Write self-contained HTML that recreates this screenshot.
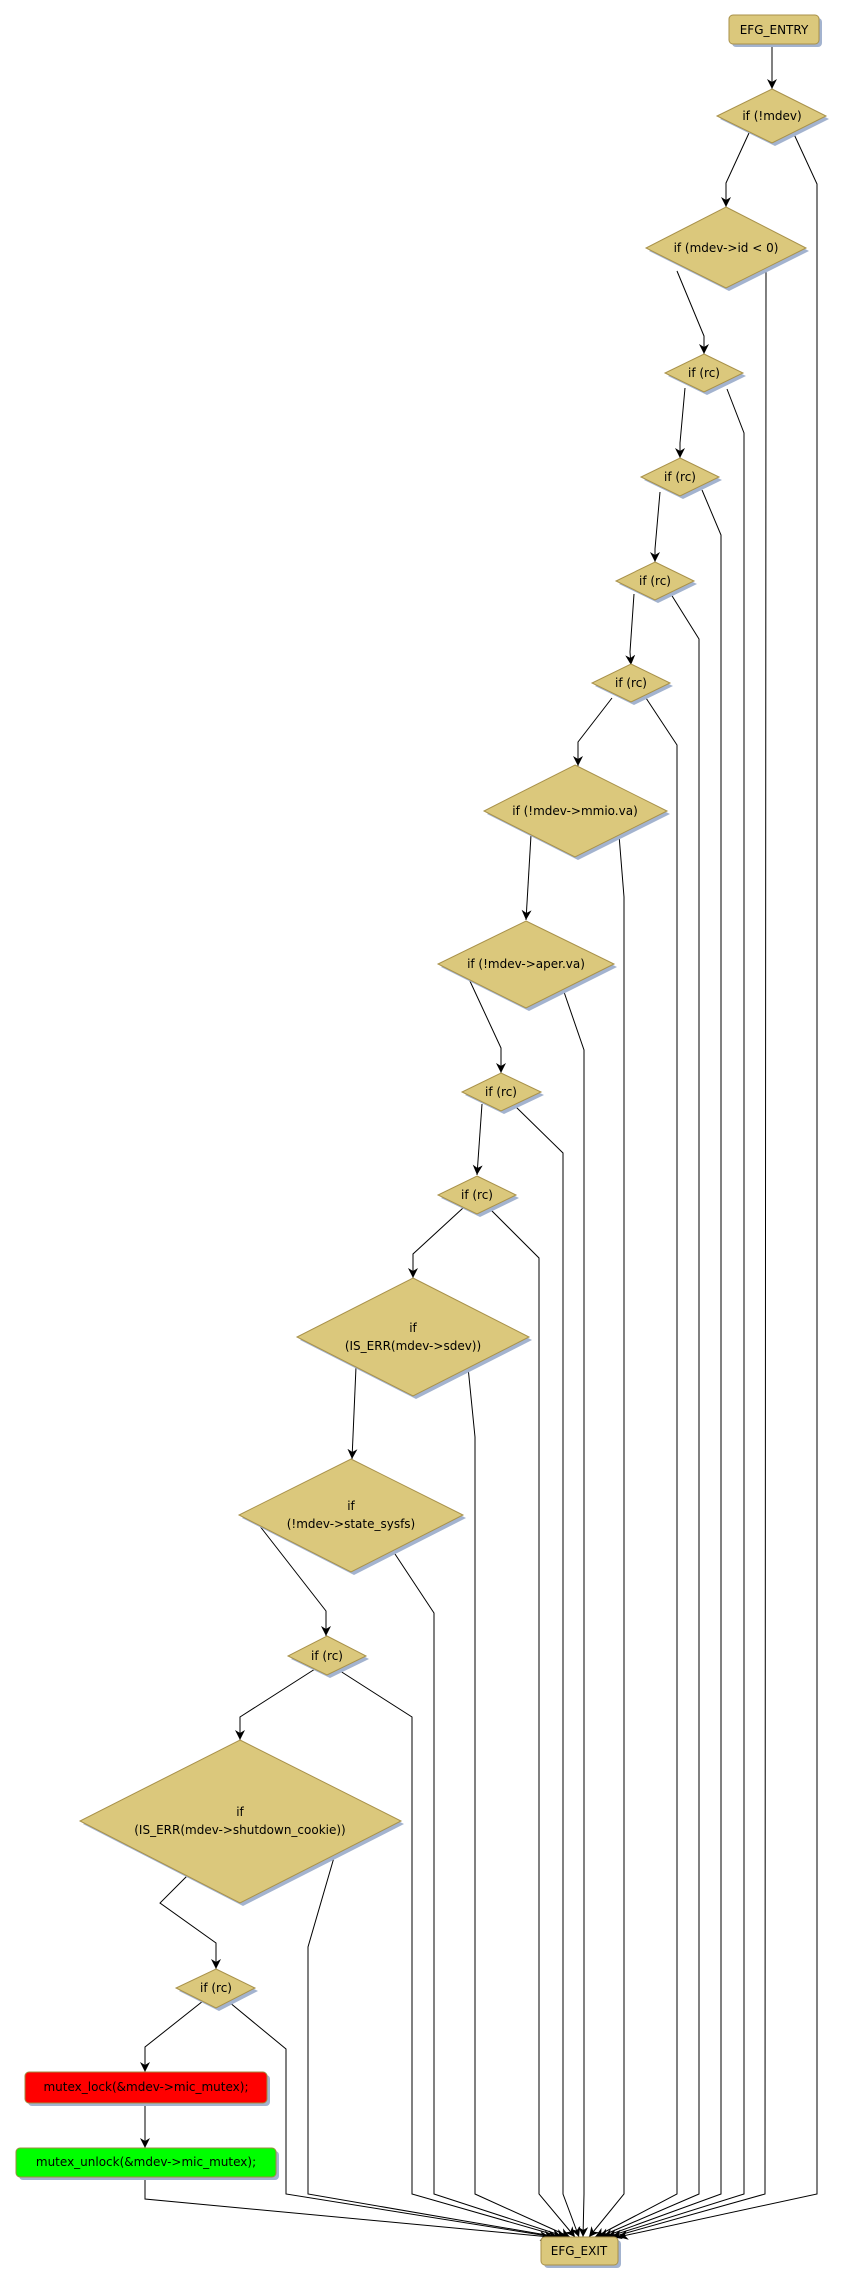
<!DOCTYPE html>
<html><head><meta charset="utf-8"><style>
html,body{margin:0;padding:0;background:#fff;}
svg{display:block;}
text{font-family:"DejaVu Sans","Liberation Sans",sans-serif;font-size:12px;fill:#000;text-anchor:middle;dominant-baseline:central;}
</style></head><body>
<svg width="844" height="2284" viewBox="0 0 844 2284" xmlns="http://www.w3.org/2000/svg">
<defs>
<marker id="a" markerWidth="12" markerHeight="12" refX="10" refY="5" orient="auto" markerUnits="userSpaceOnUse">
<path d="M0,0 L10,5 L0,10 L3,5 Z" fill="#000"/>
</marker>
</defs>
<g fill="none" stroke="#000" stroke-width="1">
<!-- main flow -->
<polyline points="772,44 772,89" marker-end="url(#a)"/>
<polyline points="749,133 726,183 726,207" marker-end="url(#a)"/>
<polyline points="677,271 704,336 704,354" marker-end="url(#a)"/>
<polyline points="685,388 680,443 680,458" marker-end="url(#a)"/>
<polyline points="660,492 655,549 655,562" marker-end="url(#a)"/>
<polyline points="634,594 630,652 631,665" marker-end="url(#a)"/>
<polyline points="612,698 578,742 578,766" marker-end="url(#a)"/>
<polyline points="531,835 526,920" marker-end="url(#a)"/>
<polyline points="469,979 501,1048 501,1073" marker-end="url(#a)"/>
<polyline points="482,1104 477,1175" marker-end="url(#a)"/>
<polyline points="463,1208 413,1254 413,1278" marker-end="url(#a)"/>
<polyline points="356,1367 352,1459" marker-end="url(#a)"/>
<polyline points="259,1525 326,1611 326,1636" marker-end="url(#a)"/>
<polyline points="315,1669 240,1717 240,1740" marker-end="url(#a)"/>
<polyline points="187,1876 160,1903 216,1943 216,1969" marker-end="url(#a)"/>
<polyline points="203,2001 145,2047 145,2072" marker-end="url(#a)"/>
<polyline points="145,2103 145,2148" marker-end="url(#a)"/>
<!-- exits -->
<polyline points="793,132 817,184 817,2194 618,2237" marker-end="url(#a)"/>
<polyline points="766,267 765,2194 612,2237" marker-end="url(#a)"/>
<polyline points="727,389 744,433 744,2194 607,2237" marker-end="url(#a)"/>
<polyline points="702,490 721,535 721,2194 603,2237" marker-end="url(#a)"/>
<polyline points="669,591 699,639 699,2194 599,2237" marker-end="url(#a)"/>
<polyline points="644,695 677,745 677,2194 595,2237" marker-end="url(#a)"/>
<polyline points="619,835 624,897 624,2194 589,2237" marker-end="url(#a)"/>
<polyline points="563,989 584,1050 584,2194 583,2237" marker-end="url(#a)"/>
<polyline points="515,1106 563,1153 563,2194 579,2237" marker-end="url(#a)"/>
<polyline points="489,1208 539,1258 539,2194 575,2237" marker-end="url(#a)"/>
<polyline points="468,1367 475,1437 475,2194 570,2237" marker-end="url(#a)"/>
<polyline points="393,1551 434,1613 434,2194 566,2237" marker-end="url(#a)"/>
<polyline points="337,1669 412,1717 412,2194 562,2237" marker-end="url(#a)"/>
<polyline points="335,1854 308,1947 308,2194 558,2237" marker-end="url(#a)"/>
<polyline points="229,2002 286,2049 286,2194 554,2237" marker-end="url(#a)"/>
<polyline points="145,2177 145,2199 550,2237" marker-end="url(#a)"/>
</g>
<!-- shadows -->
<g fill="#a3b3cf">
<rect x="732" y="18" width="90" height="29" rx="4"/>
<polygon points="775,92 829,119 775,146 720,119"/>
<polygon points="729,210 809,251 729,291 649,251"/>
<polygon points="707,357 746,376 707,395 668,376"/>
<polygon points="683,461 722,480 683,499 644,480"/>
<polygon points="658,565 697,584 658,603 619,584"/>
<polygon points="634,667 673,686 634,705 595,686"/>
<polygon points="578,768 670,814 578,860 487,814"/>
<polygon points="529,924 617,967 529,1011 441,967"/>
<polygon points="504,1076 544,1095 504,1114 465,1095"/>
<polygon points="480,1179 519,1198 480,1217 441,1198"/>
<polygon points="416,1281 532,1340 416,1399 300,1340"/>
<polygon points="354,1462 466,1518 354,1575 242,1518"/>
<polygon points="330,1639 369,1659 330,1678 291,1659"/>
<polygon points="243,1743 404,1824 243,1906 83,1824"/>
<polygon points="219,1972 258,1991 219,2011 179,1991"/>
<rect x="28" y="2075" width="242" height="31" rx="4"/>
<rect x="19" y="2151" width="260" height="29" rx="4"/>
<rect x="544" y="2240" width="77" height="28" rx="4"/>
</g>
<g fill="#dbc87c" stroke="#a8914a" stroke-width="1">
<rect x="729" y="15" width="90" height="29" rx="4"/>
<polygon points="772,89 826,116 772,143 717,116"/>
<polygon points="726,207 806,248 726,288 646,248"/>
<polygon points="704,354 743,373 704,392 665,373"/>
<polygon points="680,458 719,477 680,496 641,477"/>
<polygon points="655,562 694,581 655,600 616,581"/>
<polygon points="631,664 670,683 631,702 592,683"/>
<polygon points="575,765 667,811 575,857 484,811"/>
<polygon points="526,921 614,964 526,1008 438,964"/>
<polygon points="501,1073 541,1092 501,1111 462,1092"/>
<polygon points="477,1176 516,1195 477,1214 438,1195"/>
<polygon points="413,1278 529,1337 413,1396 297,1337"/>
<polygon points="351,1459 463,1515 351,1572 239,1515"/>
<polygon points="327,1636 366,1656 327,1675 288,1656"/>
<polygon points="240,1740 401,1821 240,1903 80,1821"/>
<polygon points="216,1969 255,1988 216,2008 176,1988"/>
<rect x="25" y="2072" width="242" height="31" rx="4" fill="#ff0000" stroke="#a08a40"/>
<rect x="16" y="2148" width="260" height="29" rx="4" fill="#00ff00" stroke="#a08a40"/>
<rect x="541" y="2237" width="77" height="28" rx="4"/>
</g>
<text x="774" y="30">EFG_ENTRY</text>
<text x="772" y="116">if (!mdev)</text>
<text x="726" y="248">if (mdev-&gt;id &lt; 0)</text>
<text x="704" y="373">if (rc)</text>
<text x="680" y="477">if (rc)</text>
<text x="655" y="581">if (rc)</text>
<text x="631" y="683">if (rc)</text>
<text x="575" y="811">if (!mdev-&gt;mmio.va)</text>
<text x="526" y="964">if (!mdev-&gt;aper.va)</text>
<text x="501" y="1092">if (rc)</text>
<text x="477" y="1195">if (rc)</text>
<text x="413" y="1328">if</text>
<text x="413" y="1346">(IS_ERR(mdev-&gt;sdev))</text>
<text x="351" y="1506">if</text>
<text x="351" y="1524">(!mdev-&gt;state_sysfs)</text>
<text x="327" y="1656">if (rc)</text>
<text x="240" y="1812">if</text>
<text x="240" y="1830">(IS_ERR(mdev-&gt;shutdown_cookie))</text>
<text x="216" y="1988">if (rc)</text>
<text x="146" y="2087">mutex_lock(&amp;mdev-&gt;mic_mutex);</text>
<text x="146" y="2162">mutex_unlock(&amp;mdev-&gt;mic_mutex);</text>
<text x="579" y="2251">EFG_EXIT</text>
</svg>
</body></html>
